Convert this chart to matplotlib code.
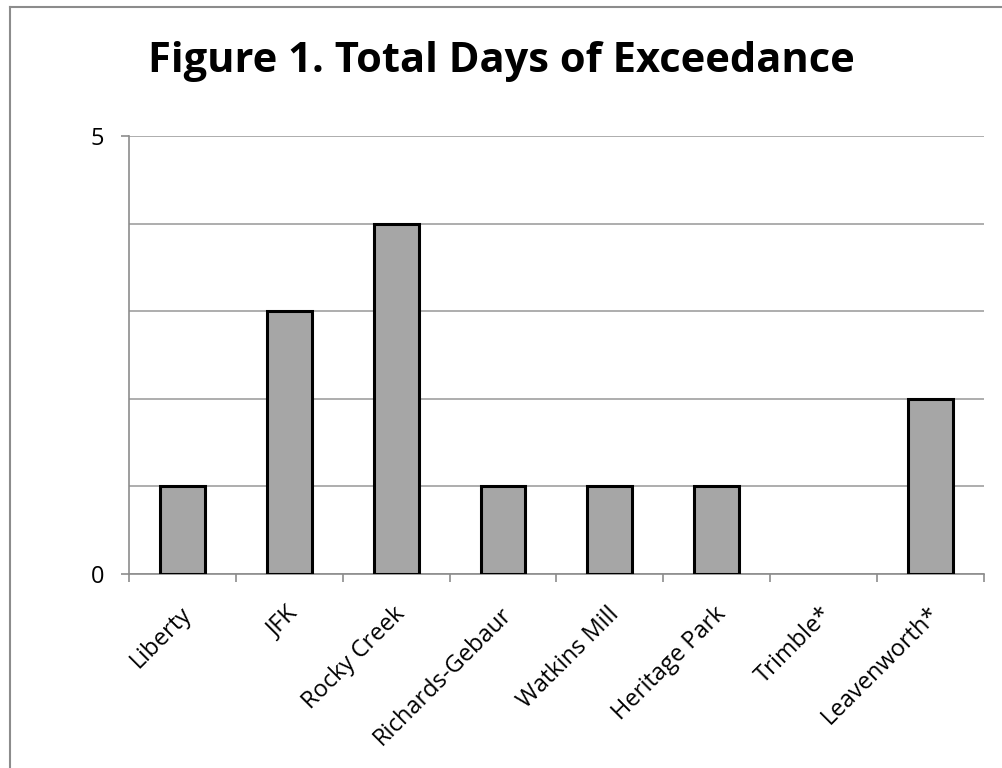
import matplotlib.pyplot as plt
from matplotlib.lines import Line2D

sites = ["Liberty", "JFK", "Rocky Creek", "Richards-Gebaur",
         "Watkins Mill", "Heritage Park", "Trimble*", "Leavenworth*"]
days = [1, 3, 4, 1, 1, 1, 0, 2]

plt.rcParams['font.family'] = ['Open Sans', 'DejaVu Sans']

fig = plt.figure(figsize=(10.02, 7.68), dpi=100)
ax = fig.add_axes([0.1287, 0.2526, 0.8533, 0.5703])

x = range(len(sites))
# no outline for empty bars (Excel draws nothing there)
edge_w = [2.2 if d > 0 else 0 for d in days]
ax.bar(x, days, width=0.42, color="#A6A6A6", edgecolor="black", linewidth=edge_w, zorder=3)

ax.set_xlim(-0.5, len(sites) - 0.5)
ax.set_ylim(0, 5)

ax.set_yticks([0, 5])
ax.set_yticks([1, 2, 3, 4], minor=True)
ax.yaxis.grid(True, which="both", color="#A0A0A0", linewidth=1.2, zorder=0)
ax.tick_params(axis="y", which="major", length=6, width=1.2, color="#8C8C8C",
               labelsize=17, pad=12)
ax.tick_params(axis="y", which="minor", length=0)

ax.set_xticks([i - 0.5 for i in range(len(sites) + 1)])
ax.set_xticklabels([])
ax.tick_params(axis="x", length=6, width=1.2, color="#8C8C8C")
for i, name in enumerate(sites):
    ax.text(i - 0.03, -0.32, name, rotation=45, ha="right", va="top",
            rotation_mode="anchor", fontsize=17, transform=ax.transData)

for side in ["top", "right"]:
    ax.spines[side].set_visible(False)
for side in ["left", "bottom"]:
    ax.spines[side].set_color("#8C8C8C")
    ax.spines[side].set_linewidth(1.2)

fig.text(0.5, 0.92, "Figure 1. Total Days of Exceedance", ha="center", va="center",
         fontsize=30, fontweight="bold")

# chart frame: only the top and left edges are inside the crop
x0, y0 = 9.5 / 1002, 1 - 6.5 / 768
fig.add_artist(Line2D([x0, 1], [y0, y0], transform=fig.transFigure,
                      color="#8C8C8C", linewidth=1.5))
fig.add_artist(Line2D([x0, x0], [0, y0], transform=fig.transFigure,
                      color="#8C8C8C", linewidth=1.5))

fig.savefig("out.png", dpi=100)
